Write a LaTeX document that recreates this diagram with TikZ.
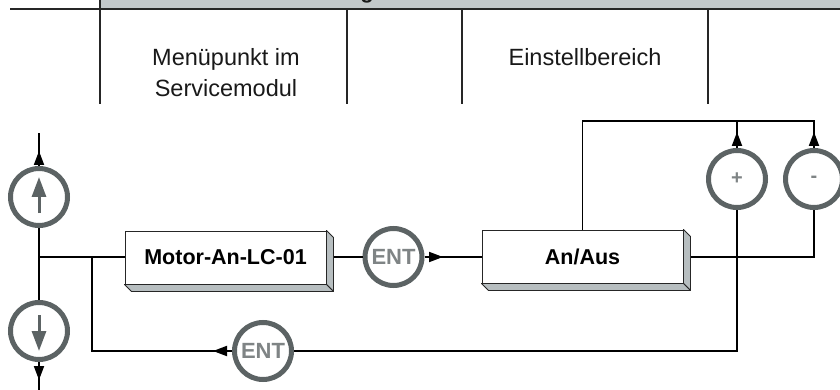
\documentclass[tikz,border=0pt]{standalone}
\usepackage{fontspec}
\setmainfont{Liberation Sans}
\usetikzlibrary{arrows.meta}
\definecolor{ringgray}{HTML}{5C6364}
\definecolor{entgray}{HTML}{7F8485}
\definecolor{sidegray}{HTML}{B7BEC0}
\definecolor{bandgray}{HTML}{C3C8CA}
\tikzset{
  ring/.style={circle, draw=ringgray, line width=5pt, fill=white, minimum size=57pt, inner sep=0pt},
  enttext/.style={text=entgray, font=\fontsize{22}{22}\selectfont\bfseries},
  signtext/.style={text=entgray, font=\fontsize{20}{20}\selectfont\bfseries},
  box3d/.style={rectangle, draw=black!85, line width=0.9pt, fill=white, minimum width=201pt, minimum height=53pt, inner sep=0pt, font=\fontsize{21.5}{21.5}\selectfont\bfseries},
  conn/.style={line width=1.9pt, black},
  tip/.style={line width=1.9pt, black, -{Triangle[length=14pt,width=10pt]}},
  innerarrow/.style={line width=3pt, ringgray, -{Triangle[length=20pt,width=14pt]}},
  header/.style={font=\fontsize{23.5}{31}\selectfont, align=center, anchor=base, text=black!90},
  colline/.style={line width=1.6pt, black!85},
}
\newcommand{\extrudebox}[1]{%
  \filldraw[fill=sidegray, draw=black!85, line width=0.9pt, line join=round]
    (#1.north east) -- ++(7,7) -- ([shift={(7,7)}]#1.south east) -- (#1.south east) -- cycle;
  \filldraw[fill=sidegray, draw=black!85, line width=0.9pt, line join=round]
    (#1.south west) -- ++(7,7) -- ([shift={(7,7)}]#1.south east) -- (#1.south east) -- cycle;
}
\begin{document}
\begin{tikzpicture}[x=1pt, y=-1pt]
\useasboundingbox (0,0) rectangle (840,390);
\clip (0,0) rectangle (840,390);
% header band
\fill[bandgray] (100,0) rectangle (840,7.8);
\node[font=\fontsize{22}{22}\selectfont\bfseries, anchor=base, text=black!90] (hdr) at (367,-1.9) {g};
\draw[line width=2.2pt, black!85] (10,8.8) -- (840,8.8);
\draw[colline] (100,0) -- (100,104);
\draw[colline] (347,8.8) -- (347,104);
\draw[colline] (462,8.8) -- (462,104);
\draw[colline] (708,8.8) -- (708,104);
\node[header] (h1) at (226,96.7) {Menüpunkt im\\Servicemodul};
\node[header] (h2) at (585,66) {Einstellbereich};

% nodes
\node[ring] (upc) at (39,197) {};
\node[ring] (dnc) at (39,331) {};
\node[ring, enttext] (ent1) at (393.5,257) {ENT};
\node[ring, enttext] (ent2) at (263,351) {ENT};
\node[ring, signtext] (plus) at (737,179) {+};
\node[ring, signtext] (minus) at (814,179) {-};

\coordinate (ltop) at (39,133);
\coordinate (ltip) at (39,151);
\coordinate (lbot) at (39,392);
\coordinate (lbtip) at (39,380);
\coordinate (j1) at (39,257);
\coordinate (j2) at (92,257);
\coordinate (j3) at (92,351);
\coordinate (e2tip) at (213,351);
\coordinate (a1tip) at (443,257);
\coordinate (t1) at (582.5,121);
\coordinate (t2) at (737,121);
\coordinate (t3) at (814,121);
\coordinate (ptip) at (737,132);
\coordinate (mtip) at (814,132);
\coordinate (pb) at (737,351);
\coordinate (mb) at (814,257);

% connectors (behind boxes)
\draw[conn] (upc.north) -- (ltop);
\draw[tip] (upc.north) -- (ltip);
\draw[conn] (upc.south) -- (dnc.north);
\draw[conn] (dnc.south) -- (lbot);
\draw[tip] (dnc.south) -- (lbtip);
\draw[conn] (j1) -- (225,257);
\draw[conn] (j2) -- (j3) -- (ent2.west);
\draw[tip] (ent2.west) -- (e2tip);
\draw[conn] (330,257) -- (ent1.west);
\draw[conn] (ent1.east) -- (582,257);
\draw[tip] (ent1.east) -- (a1tip);
\draw[conn] (582.5,257) -- (t1) -- (t3) -- (minus.north);
\draw[conn] (t2) -- (plus.north);
\draw[tip] (plus.north) -- (ptip);
\draw[tip] (minus.north) -- (mtip);
\draw[conn] (plus.south) -- (pb) -- (ent2.east);
\draw[conn] (minus.south) -- (mb) -- (600,257);

% boxes
\node[box3d] (motor) at (225.5,257.5) {Motor-An-LC-01};
\extrudebox{motor}
\node[box3d] (anaus) at (582.5,256.5) {An/Aus};
\extrudebox{anaus}

% inner arrows
\draw[innerarrow] (39,213) -- (39,177);
\draw[innerarrow] (39,315) -- (39,351);
\end{tikzpicture}
\end{document}
